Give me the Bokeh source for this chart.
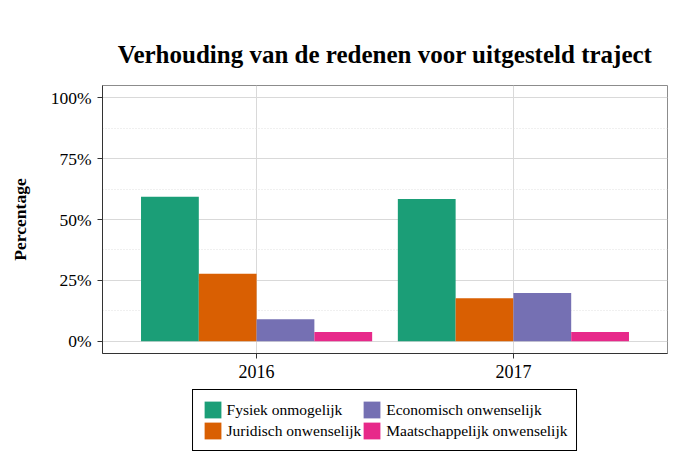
from bokeh.plotting import figure
from bokeh.models import (ColumnDataSource, FactorRange, Range1d, FixedTicker,
                          PrintfTickFormatter, Legend, LegendItem)
from bokeh.transform import dodge
from bokeh.layouts import column
from bokeh.embed import file_html
from bokeh.resources import INLINE

years = ["2016", "2017"]
reasons = ["Fysiek onmogelijk", "Juridisch onwenselijk",
           "Economisch onwenselijk", "Maatschappelijk onwenselijk"]
fysiek = [59.3, 58.4]
juridisch = [27.7, 17.7]
economisch = [9.1, 19.8]
maatschappelijk = [3.8, 3.8]
colors = ["#1B9E77", "#D95F02", "#7570B3", "#E7298A"]
y_ticks = [0, 25, 50, 75, 100]
y_minor = [12.5, 37.5, 62.5, 87.5]

source = ColumnDataSource(dict(years=years, fysiek=fysiek, juridisch=juridisch,
                               economisch=economisch, maatschappelijk=maatschappelijk))

SERIF = "Liberation Serif"

p = figure(width=670, height=388, output_backend="svg", toolbar_location=None,
           x_range=FactorRange(*years, range_padding=0.1, range_padding_units="percent"),
           y_range=Range1d(-5, 105),
           min_border_left=102, min_border_right=3, min_border_top=85, min_border_bottom=35)

bw = 0.225
offsets = [-1.5 * bw, -0.5 * bw, 0.5 * bw, 1.5 * bw]
cols = ["fysiek", "juridisch", "economisch", "maatschappelijk"]
for col, off, c in zip(cols, offsets, colors):
    p.vbar(x=dodge("years", off, range=p.x_range), top=col, bottom=0, width=bw,
           source=source, fill_color=c, line_color=None)

# title
p.title.text = "Verhouding van de redenen voor uitgesteld traject"
p.title.text_font = SERIF
p.title.text_font_size = "25px"
p.title.text_font_style = "bold"
p.title.text_color = "black"
p.title.align = "center"
p.title.standoff = 36

# axes
p.yaxis.ticker = FixedTicker(ticks=y_ticks, minor_ticks=y_minor)
p.yaxis.formatter = PrintfTickFormatter(format="%d%%")
p.yaxis.axis_label = "Percentage"
p.yaxis.axis_label_text_font = SERIF
p.yaxis.axis_label_text_font_style = "bold"
p.yaxis.axis_label_text_font_size = "17.5px"
p.yaxis.axis_label_text_color = "black"
p.yaxis.axis_label_standoff = 18
for ax in (p.xaxis, p.yaxis):
    ax.major_label_text_font = SERIF
    ax.major_label_text_font_size = "17.5px"
    ax.major_label_text_color = "black"
    ax.axis_line_color = "#333333"
    ax.major_tick_line_color = "#333333"
    ax.major_tick_in = 0
    ax.major_tick_out = 5
    ax.minor_tick_line_color = None
p.xaxis.major_label_text_font_size = "18px"
p.yaxis.major_label_standoff = 6
p.xaxis.major_label_standoff = 6

# grid
p.ygrid.grid_line_color = "#d9d9d9"
p.ygrid.minor_grid_line_color = "#e0e0e0"
p.ygrid.minor_grid_line_dash = "1 2"
p.xgrid.grid_line_color = "#d9d9d9"
p.outline_line_color = "#8c8c8c"
p.background_fill_color = "white"
p.border_fill_color = "white"

# legend panel (separate small figure holding only the legend)
lg = figure(width=670, height=64, output_backend="svg", toolbar_location=None,
            x_range=FactorRange(*years), y_range=Range1d(0, 1),
            x_axis_location=None, y_axis_location=None,
            min_border_left=102, min_border_right=3, min_border_top=0, min_border_bottom=0)
lg.grid.visible = False
lg.outline_line_color = None
lg.border_fill_color = "white"
proxies = [lg.vbar(x="years", top=col, width=bw, source=source, fill_color=c,
                   line_color=None, visible=False)
           for col, c in zip(cols, colors)]

legend = Legend(items=[LegendItem(label=lab, renderers=[r]) for lab, r in zip(reasons, proxies)],
                orientation="vertical", nrows=2, location="center")
legend.label_text_font = SERIF
legend.label_text_font_size = "15.5px"
legend.label_text_color = "black"
legend.glyph_width = 21
legend.glyph_height = 21
legend.label_height = 21
legend.label_standoff = 4
legend.spacing = 0
legend.padding = 9
legend.margin = 0
legend.border_line_color = "black"
legend.border_line_alpha = 1
legend.border_line_width = 1
lg.add_layout(legend, "center")

layout = column(p, lg, spacing=0)
open("out.html", "w").write(file_html(layout, INLINE))
